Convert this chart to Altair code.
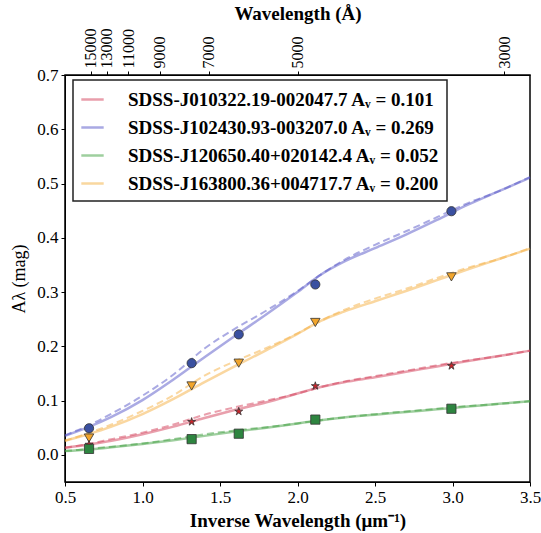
import altair as alt
import pandas as pd

# ---------------- data ----------------
labels = [
    "SDSS-J010322.19-002047.7 Aᵥ = 0.101",
    "SDSS-J102430.93-003207.0 Aᵥ = 0.269",
    "SDSS-J120650.40+020142.4 Aᵥ = 0.052",
    "SDSS-J163800.36+004717.7 Aᵥ = 0.200",
]
line_colors = ["#d43f5a", "#5555c8", "#40a040", "#f5b041"]
marker_colors = ["#c8262c", "#3a50a0", "#2e8540", "#f2a52b"]

# curve sample points (inverse wavelength, 1/um)
curve_x = [0.5, 0.65, 0.8, 1.0, 1.2, 1.4, 1.6, 1.8, 2.0, 2.15, 2.3, 2.5, 2.7, 2.9, 3.1, 3.3, 3.5]

red_solid = [0.013, 0.019, 0.026, 0.038, 0.052, 0.068, 0.083, 0.097, 0.113, 0.125, 0.134, 0.143, 0.153, 0.163, 0.173, 0.182, 0.192]
red_dashed = [0.013, 0.020, 0.029, 0.041, 0.056, 0.074, 0.088, 0.100, 0.113, 0.125, 0.135, 0.145, 0.155, 0.165, 0.174, 0.182, 0.192]
blue_solid = [0.035, 0.051, 0.070, 0.101, 0.139, 0.180, 0.220, 0.259, 0.300, 0.332, 0.356, 0.381, 0.406, 0.433, 0.461, 0.486, 0.511]
blue_dashed = [0.036, 0.054, 0.076, 0.109, 0.148, 0.196, 0.233, 0.266, 0.302, 0.332, 0.359, 0.387, 0.412, 0.438, 0.464, 0.486, 0.512]
green_solid = [0.007, 0.010, 0.014, 0.020, 0.027, 0.035, 0.043, 0.050, 0.058, 0.064, 0.069, 0.074, 0.079, 0.084, 0.089, 0.094, 0.099]
green_dashed = [0.007, 0.011, 0.015, 0.021, 0.029, 0.038, 0.045, 0.051, 0.058, 0.064, 0.069, 0.075, 0.080, 0.085, 0.090, 0.094, 0.099]
orange_solid = [0.026, 0.038, 0.052, 0.075, 0.103, 0.134, 0.164, 0.193, 0.223, 0.247, 0.264, 0.283, 0.302, 0.322, 0.342, 0.361, 0.380]
orange_dashed = [0.026, 0.040, 0.056, 0.081, 0.110, 0.146, 0.173, 0.197, 0.224, 0.247, 0.267, 0.288, 0.306, 0.326, 0.345, 0.361, 0.381]

# photometric points
point_x = [0.655, 1.317, 1.621, 2.115, 2.993]
blue_pts = [0.049, 0.169, 0.222, 0.314, 0.449]
orange_pts = [0.031, 0.127, 0.169, 0.244, 0.328]
red_pts = [0.019, 0.061, 0.080, 0.127, 0.164]
green_pts = [0.011, 0.029, 0.039, 0.065, 0.085]

# top axis wavelengths (Angstrom)
top_wavelengths = [15000, 13000, 11000, 9000, 7000, 5000, 3000]

# ---------------- tables ----------------
solid_series = [red_solid, blue_solid, green_solid, orange_solid]
dashed_series = [red_dashed, blue_dashed, green_dashed, orange_dashed]

solid_rows, dashed_rows = [], []
for lab, s, d in zip(labels, solid_series, dashed_series):
    for xv, yv in zip(curve_x, s):
        solid_rows.append({"x": xv, "y": yv, "label": lab})
    for xv, yv in zip(curve_x, d):
        dashed_rows.append({"x": xv, "y": yv, "dlabel": lab})
solid_df = pd.DataFrame(solid_rows)
dashed_df = pd.DataFrame(dashed_rows)

top_df = pd.DataFrame({"inv": [1e4 / w for w in top_wavelengths]})

star = ("M0,-1L0.2245,-0.309L0.951,-0.309L0.3633,0.118L0.5878,0.809L0,0.382"
        "L-0.5878,0.809L-0.3633,0.118L-0.951,-0.309L-0.2245,-0.309Z")

FONT = "Liberation Serif"

x_scale = alt.Scale(domain=[0.5, 3.5], nice=False, zero=False)
y_scale = alt.Scale(domain=[-0.05, 0.7], nice=False, zero=False)

x_axis = alt.Axis(
    title="Inverse Wavelength (μm⁻¹)", values=[0.5, 1.0, 1.5, 2.0, 2.5, 3.0, 3.5],
    format=".1f", grid=False, tickSize=4, labelPadding=3, titlePadding=6,
    labelFont=FONT, labelFontSize=17, titleFont=FONT, titleFontSize=19,
    titleFontWeight="bold", labelColor="black", titleColor="black",
    domainColor="black", tickColor="black", labelFlush=False,
)
y_axis = alt.Axis(
    title="Aλ (mag)", values=[0.0, 0.1, 0.2, 0.3, 0.4, 0.5, 0.6, 0.7],
    format=".1f", grid=False, tickSize=4, labelPadding=3, titlePadding=8,
    labelFont=FONT, labelFontSize=17, titleFont=FONT, titleFontSize=18,
    titleFontWeight="normal", labelColor="black", titleColor="black",
    domainColor="black", tickColor="black", labelFlush=False,
)

X = alt.X("x:Q", scale=x_scale, axis=x_axis)
Y = alt.Y("y:Q", scale=y_scale, axis=y_axis)

solid = alt.Chart(solid_df).mark_line(strokeWidth=2.5, opacity=0.5, interpolate="monotone").encode(
    x=X, y=Y,
    color=alt.Color(
        "label:N", scale=alt.Scale(domain=labels, range=line_colors),
        legend=alt.Legend(
            title=None, orient="none", legendX=8, legendY=5,
            symbolType="stroke", symbolSize=500, symbolStrokeWidth=2.5,
            symbolOpacity=0.5, labelFont=FONT, labelFontSize=19,
            labelFontWeight="bold", labelLimit=600, labelColor="black",
            labelOffset=23, rowPadding=5, padding=7,
            fillColor="white", strokeColor="#222",
        ),
    ),
)

dashed = alt.Chart(dashed_df).mark_line(strokeWidth=2, opacity=0.5, strokeDash=[7, 4], interpolate="monotone").encode(
    x=X, y=Y,
    stroke=alt.Stroke("dlabel:N", scale=alt.Scale(domain=labels, range=line_colors), legend=None),
)

# one marker layer per object (drawn blue, orange, red, green -> green on top)
marker_specs = [
    (blue_pts, "circle", marker_colors[1], 85),
    (orange_pts, "triangle-down", marker_colors[3], 90),
    (red_pts, star, marker_colors[0], 70),
    (green_pts, "square", marker_colors[2], 85),
]
marker_layers = []
for vals, shp, col, sz in marker_specs:
    mdf = pd.DataFrame({"x": point_x, "y": vals})
    marker_layers.append(
        alt.Chart(mdf).mark_point(filled=True, opacity=1, shape=shp, fill=col, size=sz,
                                  stroke="#333333", strokeWidth=0.8).encode(x=X, y=Y)
    )

top = alt.Chart(top_df).mark_point(opacity=0).encode(
    x=alt.X("inv:Q", scale=alt.Scale(domain=[0.5, 3.5], nice=False, zero=False),
            axis=alt.Axis(
                orient="top", title="Wavelength (Å)", values=[1e4 / w for w in top_wavelengths],
                labelExpr="format(10000 / datum.value, 'd')", labelAngle=270,
                labelAlign="left", labelBaseline="middle", grid=False, labelOverlap=False,
                tickSize=4, labelPadding=3, titlePadding=5,
                labelFont=FONT, labelFontSize=16, titleFont=FONT, titleFontSize=19,
                titleFontWeight="bold", labelColor="black", titleColor="black",
                domainColor="black", tickColor="black",
            )),
)

chart = alt.layer(alt.layer(solid, dashed, *marker_layers), top).resolve_scale(x="independent").properties(
    width=465, height=407,
    padding={"left": 65, "top": 75, "right": 11, "bottom": 51},
    autosize=alt.AutoSizeParams(type="none"),
    background="white",
).configure_view(stroke="black", strokeWidth=1.5).configure_legend(strokeWidth=1.5)

chart.save("out.html", embed_options={"renderer": "svg", "actions": False})
